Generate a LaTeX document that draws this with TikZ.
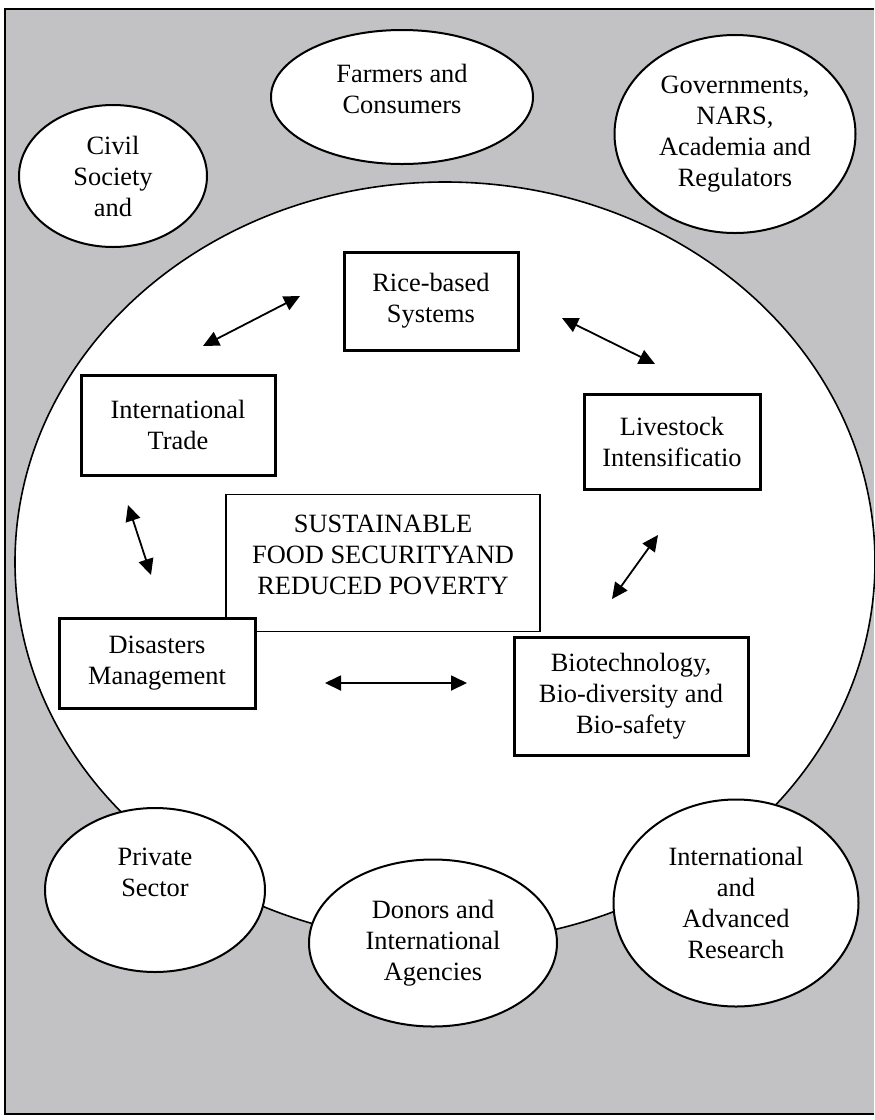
\documentclass[tikz,border=0pt]{standalone}
\usepackage{fontspec}
\setmainfont{Liberation Serif}
\usetikzlibrary{arrows.meta,shapes.geometric}
\definecolor{scangray}{RGB}{194,193,195}

\begin{document}
\begin{tikzpicture}[x=0.5pt,y=-0.5pt,
  font=\fontsize{13.2}{15.5}\selectfont,
  actor/.style={ellipse,draw,line width=1pt,fill=white,align=center,inner sep=1pt},
  theme/.style={rectangle,draw,line width=1.5pt,fill=white,align=center,inner sep=2pt},
  link/.style={{Triangle[length=8pt,width=7.5pt]}-{Triangle[length=8pt,width=7.5pt]},line width=0.9pt}]
  \useasboundingbox (0,0) rectangle (874,1120);
  % page background and frame
  \fill[scangray] (5,9) rectangle (874,1114);
  \draw[line width=1pt] (874,9) -- (5,9) -- (5,1114) -- (874,1114);
  % big white field
  \draw[fill=white,line width=0.8pt] (445,562) ellipse [x radius=430, y radius=380];
  % themes
  \node[theme,minimum width=87pt,minimum height=49pt] (rice) at (431,301) {Rice-based\\Systems};
  \node[theme,minimum width=97pt,minimum height=50pt] (trade) at (178,425) {International\\Trade};
  \node[theme,minimum width=88pt,minimum height=47.5pt] (livestock) at (672,442) {Livestock\\Intensificatio};
  \node[draw,fill=white,line width=0.6pt,align=center,minimum width=157pt,minimum height=68.5pt] (goal) at (383,563)
    {SUSTAINABLE\\FOOD SECURITYAND\\REDUCED POVERTY\\[-7.5pt]\mbox{}};
  \node[theme,minimum width=98pt,minimum height=45pt] (disaster) at (157,663) {Disasters\\Management};
  \node[theme,minimum width=117pt,minimum height=59pt] (biotech) at (631,696) {Biotechnology,\\Bio-diversity and\\Bio-safety};
  % arrow ends
  \coordinate (tradeR) at (203,346);   \coordinate (riceL) at (300,296);
  \coordinate (riceR) at (562,318);    \coordinate (stockL) at (655,364);
  \coordinate (stockB) at (658,535);   \coordinate (bioT) at (612,599);
  \coordinate (bioL) at (467,683);     \coordinate (disR) at (325,683);
  \coordinate (disT) at (151,575);     \coordinate (tradeB) at (128,505);
  \draw[link] (tradeR) -- (riceL);
  \draw[link] (riceR) -- (stockL);
  \draw[link] (stockB) -- (bioT);
  \draw[link] (bioL) -- (disR);
  \draw[link] (disT) -- (tradeB);
  % stakeholders
  \node[actor,minimum width=131pt,minimum height=67pt] (farmers) at (402,97) {Farmers and\\Consumers\\[-7pt]\mbox{}};
  \node[actor,minimum width=94pt,minimum height=71pt] (civil) at (113,176) {Civil\\Society\\and};
  \node[actor,minimum width=120.5pt,minimum height=99pt] (govts) at (735,134) {Governments,\\NARS,\\Academia and\\Regulators};
  \node[actor,minimum width=110pt,minimum height=82pt] (private) at (155,890) {Private\\Sector\\[2pt]\mbox{}};
  \node[actor,minimum width=124pt,minimum height=83.5pt] (donors) at (433,943) {Donors and\\International\\Agencies};
  \node[actor,minimum width=122.5pt,minimum height=103.5pt] (research) at (736,903) {International\\and\\Advanced\\Research};
\end{tikzpicture}
\end{document}
